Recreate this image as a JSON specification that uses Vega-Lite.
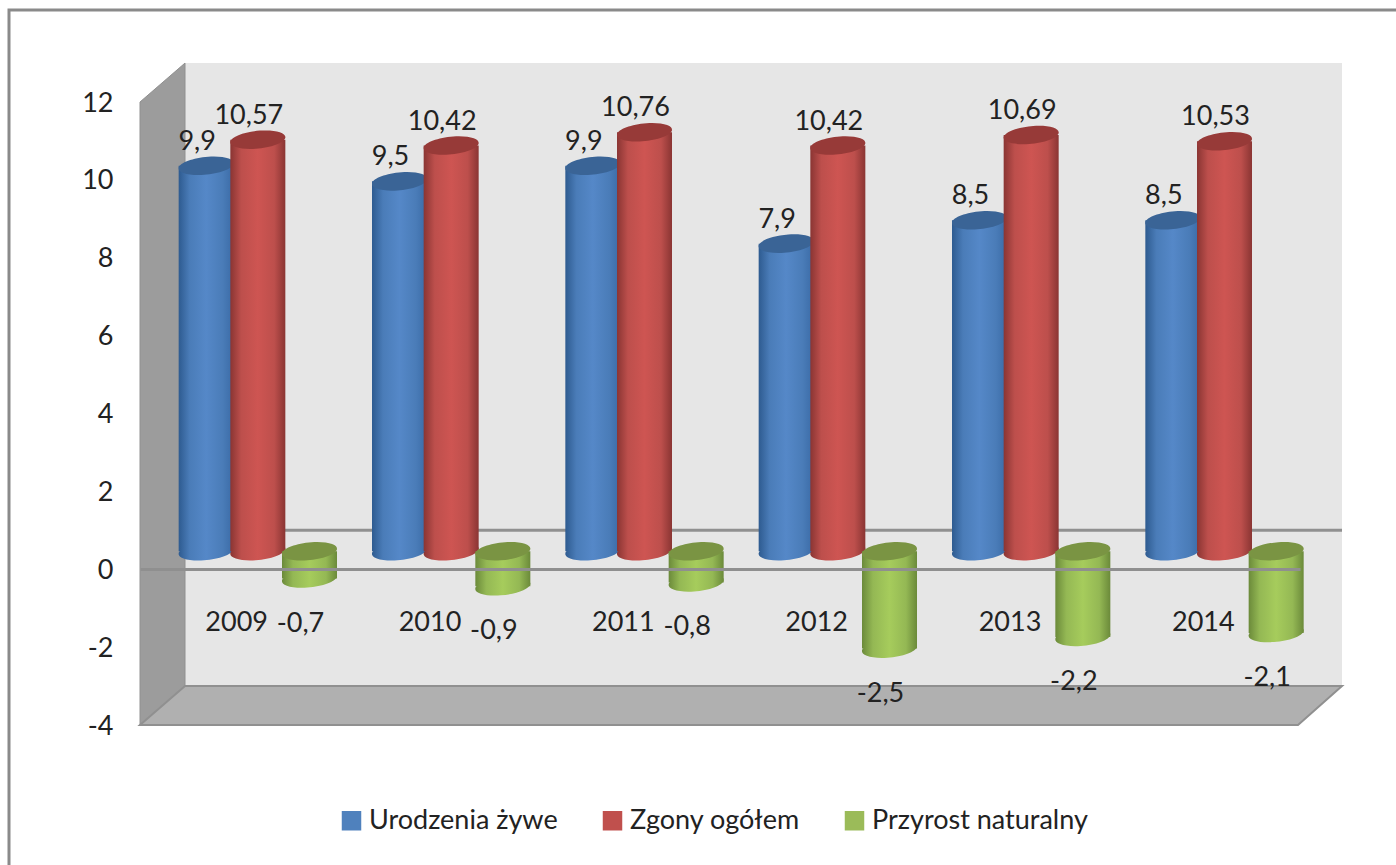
{"$schema":"https://vega.github.io/schema/vega-lite/v6.json","width":1160,"height":623,"autosize":{"type":"none"},"padding":{"left":140,"top":102,"right":96,"bottom":140},"background":"white","config":{"view":{"stroke":null},"font":"Lato","text":{"font":"Lato"}},
"datasets":{"d":[
{"year":"2009","series":"Urodzenia żywe","value":9.9,"label":"9,9"},{"year":"2010","series":"Urodzenia żywe","value":9.5,"label":"9,5"},{"year":"2011","series":"Urodzenia żywe","value":9.9,"label":"9,9"},{"year":"2012","series":"Urodzenia żywe","value":7.9,"label":"7,9"},{"year":"2013","series":"Urodzenia żywe","value":8.5,"label":"8,5"},{"year":"2014","series":"Urodzenia żywe","value":8.5,"label":"8,5"},
{"year":"2009","series":"Zgony ogółem","value":10.57,"label":"10,57"},{"year":"2010","series":"Zgony ogółem","value":10.42,"label":"10,42"},{"year":"2011","series":"Zgony ogółem","value":10.76,"label":"10,76"},{"year":"2012","series":"Zgony ogółem","value":10.42,"label":"10,42"},{"year":"2013","series":"Zgony ogółem","value":10.69,"label":"10,69"},{"year":"2014","series":"Zgony ogółem","value":10.53,"label":"10,53"},
{"year":"2009","series":"Przyrost naturalny","value":-0.7,"label":"-0,7"},{"year":"2010","series":"Przyrost naturalny","value":-0.9,"label":"-0,9"},{"year":"2011","series":"Przyrost naturalny","value":-0.8,"label":"-0,8"},{"year":"2012","series":"Przyrost naturalny","value":-2.5,"label":"-2,5"},{"year":"2013","series":"Przyrost naturalny","value":-2.2,"label":"-2,2"},{"year":"2014","series":"Przyrost naturalny","value":-2.1,"label":"-2,1"}],
"side":[{"px":0,"lo":-4,"hi":12},{"px":45,"lo":-3,"hi":13}],
"floor":[{"px":0,"lo":-4,"hi":-4},{"px":45,"lo":-4,"hi":-3},{"px":1158,"lo":-4,"hi":-3},{"px":1202,"lo":-3,"hi":-3}],
"back":[{"px":45,"px2":1202,"lo":-3,"hi":13}],
"frame":[{"px":-131,"px2":1420,"lo":-9,"hi":14.36}]},
"resolve":{"scale":{"x":"independent"}},
"layer":[
{"data":{"name":"frame"},"mark":{"type":"rect","filled":false,"stroke":"#8a8a8a","strokeWidth":3,"clip":false},"encoding":{"x":{"field":"px","type":"quantitative","scale":{"domain":[0,1160]},"axis":null},"x2":{"field":"px2"},"y":{"field":"lo","type":"quantitative","scale":{"domain":[-4,12],"nice":false,"zero":false},"axis":{"values":[-4,-2,0,2,4,6,8,10,12],"title":null,"ticks":false,"domain":false,"grid":false,"labelFont":"Lato","labelFontSize":27,"labelColor":"#222222","labelPadding":27,"labelOffset":1,"labelExpr":"datum.value"}},"y2":{"field":"hi"}}},
{"data":{"name":"back"},"mark":{"type":"rect","fill":"#e6e6e6","clip":false},"encoding":{"x":{"field":"px","type":"quantitative","scale":{"domain":[0,1160]},"axis":null},"x2":{"field":"px2"},"y":{"field":"lo","type":"quantitative"},"y2":{"field":"hi"}}},
{"data":{"name":"side"},"mark":{"type":"area","fill":"#9c9c9c","stroke":"#909090","strokeWidth":1,"clip":false},"encoding":{"x":{"field":"px","type":"quantitative","scale":{"domain":[0,1160]},"axis":null},"y":{"field":"lo","type":"quantitative"},"y2":{"field":"hi"}}},
{"data":{"name":"floor"},"mark":{"type":"area","fill":"#b0b0b0","stroke":"#909090","strokeWidth":2,"clip":false},"encoding":{"x":{"field":"px","type":"quantitative","scale":{"domain":[0,1160]},"axis":null},"y":{"field":"lo","type":"quantitative"},"y2":{"field":"hi"}}},
{"data":{"values":[{"px":45,"px2":1202,"lvl":1}]},"mark":{"type":"rule","stroke":"#909090","strokeWidth":3,"clip":false},"encoding":{"x":{"field":"px","type":"quantitative","scale":{"domain":[0,1160]},"axis":null},"x2":{"field":"px2"},"y":{"field":"lvl","type":"quantitative"}}},
{"data":{"name":"d"},
"encoding":{"x":{"field":"year","type":"nominal","scale":{"paddingInner":0.2,"paddingOuter":0.1},"axis":{"title":null,"orient":"bottom","offset":-156,"zindex":1,"domainColor":"#8f8f8f","domainWidth":3,"ticks":false,"labelAngle":0,"labelFont":"Lato","labelFontSize":27,"labelColor":"#222222","labelPadding":40}},"xOffset":{"field":"series","type":"nominal","sort":["Urodzenia żywe","Zgony ogółem","Przyrost naturalny"],"scale":{"domain":["Urodzenia żywe","Zgony ogółem","Przyrost naturalny"],"range":[21,176]}}},
"layer":[
{"mark":{"type":"point","opacity":0,"filled":true},"encoding":{"y":{"field":"value","type":"quantitative"},"color":{"field":"series","type":"nominal","scale":{"domain":["Urodzenia żywe","Zgony ogółem","Przyrost naturalny"],"range":["#4f81bd","#c0504d","#9bbb59"]},"legend":{"title":null,"orient":"none","legendX":198,"legendY":705,"direction":"horizontal","symbolType":"square","symbolSize":380,"symbolOpacity":1,"symbolStrokeWidth":1,"labelFont":"Lato","labelFontSize":27,"labelColor":"#222222","labelLimit":400,"columnPadding":41}}}},
{"transform":[{"filter":"datum.series=='Urodzenia żywe'"}],"layer":[
{"mark":{"type":"bar","size":55,"yOffset":-18,"y2Offset":-18,"fill":{"x1":0,"x2":1,"y1":0,"y2":0,"gradient":"linear","stops":[{"offset":0,"color":"#2e5b90"},{"offset":0.2,"color":"#4a7cb8"},{"offset":0.5,"color":"#5588c8"},{"offset":0.8,"color":"#4a7cb8"},{"offset":1,"color":"#3a6aa5"}]}},"encoding":{"y":{"field":"value","type":"quantitative"},"y2":{"datum":0}}},
{"mark":{"type":"point","filled":true,"opacity":1,"size":3025,"yOffset":-18,"shape":"M-1,0.07A1,0.32,-6,1,1,1,-0.07A1,0.32,-6,1,1,-1,0.07Z","fill":{"x1":0,"x2":1,"y1":0,"y2":0,"gradient":"linear","stops":[{"offset":0,"color":"#2e5b90"},{"offset":0.2,"color":"#4a7cb8"},{"offset":0.5,"color":"#5588c8"},{"offset":0.8,"color":"#4a7cb8"},{"offset":1,"color":"#3a6aa5"}]}},"encoding":{"y":{"datum":0,"type":"quantitative"}}},
{"mark":{"type":"point","filled":true,"opacity":1,"size":3025,"yOffset":-18,"fill":"#3a6496","shape":"M-1,0.07A1,0.32,-6,1,1,1,-0.07A1,0.32,-6,1,1,-1,0.07Z"},"encoding":{"y":{"field":"value","type":"quantitative"}}}]},
{"transform":[{"filter":"datum.series=='Zgony ogółem'"}],"layer":[
{"mark":{"type":"bar","size":55,"yOffset":-18,"y2Offset":-18,"fill":{"x1":0,"x2":1,"y1":0,"y2":0,"gradient":"linear","stops":[{"offset":0,"color":"#8a3533"},{"offset":0.2,"color":"#bd4f4c"},{"offset":0.5,"color":"#ce5552"},{"offset":0.8,"color":"#bd4f4c"},{"offset":1,"color":"#8a3533"}]}},"encoding":{"y":{"field":"value","type":"quantitative"},"y2":{"datum":0}}},
{"mark":{"type":"point","filled":true,"opacity":1,"size":3025,"yOffset":-18,"shape":"M-1,0.07A1,0.32,-6,1,1,1,-0.07A1,0.32,-6,1,1,-1,0.07Z","fill":{"x1":0,"x2":1,"y1":0,"y2":0,"gradient":"linear","stops":[{"offset":0,"color":"#8a3533"},{"offset":0.2,"color":"#bd4f4c"},{"offset":0.5,"color":"#ce5552"},{"offset":0.8,"color":"#bd4f4c"},{"offset":1,"color":"#8a3533"}]}},"encoding":{"y":{"datum":0,"type":"quantitative"}}},
{"mark":{"type":"point","filled":true,"opacity":1,"size":3025,"yOffset":-18,"fill":"#973a38","shape":"M-1,0.07A1,0.32,-6,1,1,1,-0.07A1,0.32,-6,1,1,-1,0.07Z"},"encoding":{"y":{"field":"value","type":"quantitative"}}}]},
{"transform":[{"filter":"datum.series=='Przyrost naturalny'"}],"layer":[
{"mark":{"type":"bar","size":55,"yOffset":-18,"y2Offset":-18,"fill":{"x1":0,"x2":1,"y1":0,"y2":0,"gradient":"linear","stops":[{"offset":0,"color":"#6b8a3a"},{"offset":0.2,"color":"#94b854"},{"offset":0.5,"color":"#a6cc5c"},{"offset":0.8,"color":"#94b854"},{"offset":1,"color":"#6b8a3a"}]}},"encoding":{"y":{"field":"value","type":"quantitative"},"y2":{"datum":0}}},
{"mark":{"type":"point","filled":true,"opacity":1,"size":3025,"yOffset":-18,"shape":"M-1,0.07A1,0.32,-6,1,1,1,-0.07A1,0.32,-6,1,1,-1,0.07Z","fill":{"x1":0,"x2":1,"y1":0,"y2":0,"gradient":"linear","stops":[{"offset":0,"color":"#6b8a3a"},{"offset":0.2,"color":"#94b854"},{"offset":0.5,"color":"#a6cc5c"},{"offset":0.8,"color":"#94b854"},{"offset":1,"color":"#6b8a3a"}]}},"encoding":{"y":{"field":"value","type":"quantitative"}}},
{"mark":{"type":"point","filled":true,"opacity":1,"size":3025,"yOffset":-18,"fill":"#7a9443","shape":"M-1,0.07A1,0.32,-6,1,1,1,-0.07A1,0.32,-6,1,1,-1,0.07Z"},"encoding":{"y":{"datum":0,"type":"quantitative"}}}]},
{"transform":[{"filter":"datum.value>0"}],"mark":{"type":"text","font":"Lato","fontSize":27,"fill":"#222222","dx":-9,"dy":-42},"encoding":{"y":{"field":"value","type":"quantitative"},"text":{"field":"label"}}},
{"transform":[{"filter":"datum.value<0"}],"mark":{"type":"text","font":"Lato","fontSize":27,"fill":"#222222","dx":-9,"dy":27},"encoding":{"y":{"field":"value","type":"quantitative"},"text":{"field":"label"}}}
]}
]}
